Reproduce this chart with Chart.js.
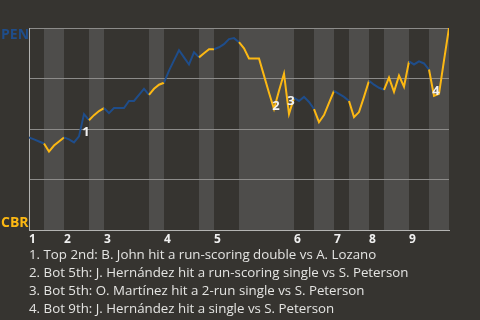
<!DOCTYPE html>
<html>
<head>
<meta charset="UTF-8">
<script src="https://cdn.jsdelivr.net/npm/chart.js@4"></script>
<style>
  html, body { margin: 0; padding: 0; background: #363430; }
  #wrap { position: relative; width: 480px; height: 320px; overflow: hidden; }
  #notes { position: absolute; left: 29px; top: 245px; color: #e4e4e2;
           font-family: 'Open Sans', sans-serif; font-size: 13.3px; line-height: 18px; white-space: nowrap; }
</style>
</head>
<body>
<div id="wrap">
  <canvas id="chart" width="480" height="320"></canvas>
  <div id="notes"></div>
</div>
<script>
// half-inning boundaries, in plate appearances
const halfStarts = [0, 3, 7, 12, 15, 24, 27, 34, 37, 42, 53, 57, 61, 64, 68, 71, 76, 80, 84];
const inningLabels = ['1', '2', '3', '4', '5', '6', '7', '8', '9'];
// PEN win probability after each plate appearance
const winProb = [
  0.46, 0.45, 0.44, 0.43, 0.39, 0.42, 0.44, 0.46, 0.45, 0.435,
  0.465, 0.575, 0.545, 0.57, 0.59, 0.605, 0.58, 0.605, 0.605, 0.605,
  0.64, 0.64, 0.67, 0.70, 0.67, 0.70, 0.72, 0.73, 0.79, 0.84,
  0.89, 0.855, 0.82, 0.88, 0.855, 0.875, 0.895, 0.895, 0.905, 0.92,
  0.945, 0.95, 0.93, 0.90, 0.85, 0.85, 0.85, 0.765, 0.68, 0.60,
  0.69, 0.775, 0.575, 0.655, 0.64, 0.66, 0.635, 0.60, 0.535, 0.57,
  0.63, 0.69, 0.675, 0.66, 0.64, 0.56, 0.585, 0.66, 0.74, 0.72,
  0.705, 0.695, 0.755, 0.685, 0.765, 0.71, 0.835, 0.82, 0.835, 0.825,
  0.795, 0.665, 0.675, 0.84, 1.0
];
const markIndex = [11, 49, 52, 81];
const markLabels = ['1', '2', '3', '4'];
const noteLines = [
  '1. Top 2nd: B. John hit a run-scoring double vs A. Lozano',
  '2. Bot 5th: J. Hernández hit a run-scoring single vs S. Peterson',
  '3. Bot 5th: O. Martínez hit a 2-run single vs S. Peterson',
  '4. Bot 9th: J. Hernández hit a single vs S. Peterson'
];

const BLUE = '#1f4d8a';
const GOLD = '#fcb813';
const BAND = '#4e4d4b';

document.getElementById('notes').innerHTML = noteLines.map(s => '<div>' + s + '</div>').join('');

const inningStarts = halfStarts.filter((v, i) => i % 2 === 0 && i < halfStarts.length - 1);

function halfIndex(x) {
  for (let i = 0; i < halfStarts.length - 1; i++) {
    if (x >= halfStarts[i] && x < halfStarts[i + 1]) return i;
  }
  return halfStarts.length - 2;
}

// background + bottom-half bands, drawn under the grid
const bandsPlugin = {
  id: 'bands',
  beforeDraw(chart) {
    const {ctx, chartArea, scales} = chart;
    ctx.save();
    ctx.fillStyle = '#363430';
    ctx.fillRect(0, 0, chart.width, chart.height);
    ctx.fillStyle = BAND;
    for (let i = 1; i < halfStarts.length - 1; i += 2) {
      const x0 = scales.x.getPixelForValue(halfStarts[i]);
      const x1 = scales.x.getPixelForValue(halfStarts[i + 1]);
      ctx.fillRect(x0, chartArea.top, x1 - x0, chartArea.bottom - chartArea.top);
    }
    ctx.restore();
  }
};

// team names and numbered marks
const labelsPlugin = {
  id: 'labels',
  afterDatasetsDraw(chart) {
    const {ctx, chartArea, scales} = chart;
    ctx.save();
    ctx.font = 'bold 14px "Open Sans", sans-serif';
    ctx.textBaseline = 'middle';
    ctx.textAlign = 'left';
    ctx.fillStyle = BLUE;
    ctx.fillText('PEN', 1, chartArea.top + 7);
    ctx.fillStyle = GOLD;
    ctx.fillText('CBR', 1, chartArea.bottom - 8);
    const offs = [[2, 18], [2, -3], [2, -13], [2, -5]];
    ctx.fillStyle = '#f2f2f2';
    ctx.font = 'bold 13px "Open Sans", sans-serif';
    ctx.textAlign = 'center';
    markIndex.forEach((idx, k) => {
      const px = scales.x.getPixelForValue(idx);
      const py = scales.y.getPixelForValue(winProb[idx]);
      ctx.fillText(markLabels[k], px + offs[k][0], py + offs[k][1]);
    });
    ctx.restore();
  }
};

new Chart(document.getElementById('chart'), {
  type: 'line',
  data: {
    datasets: [{
      data: winProb.map((v, i) => ({x: i, y: v})),
      borderWidth: 2,
      pointRadius: 0,
      tension: 0,
      borderColor: BLUE,
      segment: {
        borderColor: c => halfIndex(c.p0.parsed.x) % 2 === 0 ? BLUE : GOLD
      }
    }]
  },
  options: {
    responsive: false,
    animation: false,
    layout: { padding: { left: 29, right: 31, top: 28, bottom: 71 } },
    plugins: { legend: { display: false }, tooltip: { enabled: false } },
    scales: {
      x: {
        type: 'linear', min: 0, max: 84,
        afterBuildTicks: s => { s.ticks = inningStarts.map(v => ({value: v})); },
        ticks: {
          autoSkip: false, maxRotation: 0, align: 'start', padding: 2,
          color: '#f0f0f0',
          font: { family: '"Open Sans", sans-serif', size: 12, weight: 'bold' },
          callback: v => inningLabels[inningStarts.indexOf(v)]
        },
        grid: { display: false, drawTicks: false },
        border: { display: true, color: '#b4b4b2', width: 1 }
      },
      y: {
        min: 0, max: 1,
        ticks: { display: false, stepSize: 0.25 },
        grid: { color: '#8c8b89', drawTicks: false, lineWidth: 1 },
        border: { display: true, color: '#b4b4b2', width: 1 }
      }
    }
  },
  plugins: [bandsPlugin, labelsPlugin]
});
</script>
</body>
</html>
